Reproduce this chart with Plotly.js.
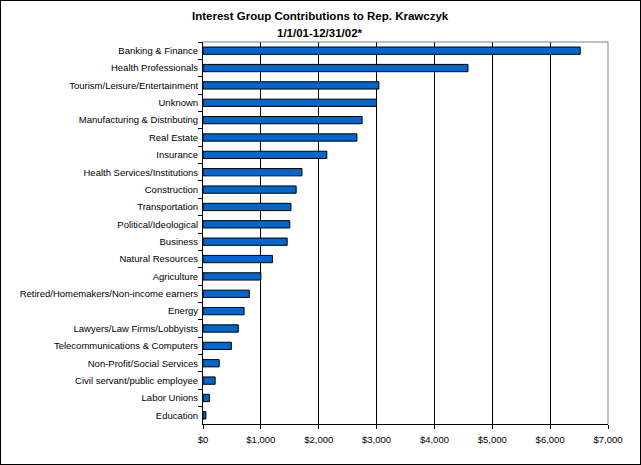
<!DOCTYPE html>
<html>
<head>
<meta charset="utf-8">
<script src="https://cdn.plot.ly/plotly-3.0.1.min.js"></script>
<style>
  body { margin: 0; background: #fff; }
  #chart { width: 641px; height: 465px; border: 1px solid #000; box-sizing: border-box; }
</style>
</head>
<body>
<div id="chart"></div>
<script>
var groups = [
  'Banking & Finance', 'Health Professionals', 'Tourism/Leisure/Entertainment', 'Unknown',
  'Manufacturing & Distributing', 'Real Estate', 'Insurance', 'Health Services/Institutions',
  'Construction', 'Transportation', 'Political/Ideological', 'Business', 'Natural Resources',
  'Agriculture', 'Retired/Homemakers/Non-income earners', 'Energy', 'Lawyers/Law Firms/Lobbyists',
  'Telecommunications & Computers', 'Non-Profit/Social Services', 'Civil servant/public employee',
  'Labor Unions', 'Education'
];
var amounts = [
  6520, 4580, 3040, 3000, 2750, 2660, 2140, 1710,
  1610, 1520, 1500, 1455, 1200, 1000, 800, 710, 610,
  490, 280, 210, 110, 50
];
var tickValues = [0, 1000, 2000, 3000, 4000, 5000, 6000, 7000];
var tickLabels = ['$0', '$1,000', '$2,000', '$3,000', '$4,000', '$5,000', '$6,000', '$7,000'];
var titleLines = ['Interest Group Contributions to Rep. Krawczyk', '1/1/01-12/31/02*'];

var font = 'Arial, "Liberation Sans", sans-serif';

// title lines sit over the page centre, not the plot centre
var titleAnn = titleLines.map(function (t, i) {
  return {
    text: '<b>' + t + '</b>',
    xref: 'paper', yref: 'paper',
    x: 0.29, y: i === 0 ? 1.068 : 1.024,
    xanchor: 'center', yanchor: 'middle',
    showarrow: false,
    font: {family: font, size: 11.5, color: '#000'}
  };
});

Plotly.newPlot('chart', [{
  type: 'bar',
  orientation: 'h',
  x: amounts,
  y: groups,
  marker: {color: '#0066CC', line: {color: '#000', width: 1}},
  hoverinfo: 'none'
}], {
  width: 639,
  height: 463,
  margin: {l: 202, r: 32, t: 41, b: 40},
  paper_bgcolor: '#fff',
  plot_bgcolor: '#fff',
  bargap: 0.58,
  showlegend: false,
  font: {family: font, size: 9.5, color: '#000'},
  annotations: titleAnn,
  xaxis: {
    range: [0, 7000],
    tickvals: tickValues,
    ticktext: tickLabels,
    showgrid: true,
    gridcolor: '#000',
    gridwidth: 1,
    zeroline: false,
    showline: true,
    linecolor: '#000',
    linewidth: 1,
    ticks: 'outside',
    ticklen: 4,
    tickcolor: '#000',
    ticklabelstandoff: 3,
    fixedrange: true
  },
  yaxis: {
    autorange: 'reversed',
    type: 'category',
    showline: true,
    linecolor: '#000',
    linewidth: 1,
    ticks: 'outside',
    tickson: 'boundaries',
    ticklen: 4,
    tickcolor: '#000',
    ticklabelstandoff: 2,
    showgrid: false,
    fixedrange: true
  },
  shapes: [
    {type: 'line', xref: 'paper', yref: 'paper', x0: 0, x1: 1, y0: 1, y1: 1,
     line: {color: '#808080', width: 1}, layer: 'above'},
    {type: 'line', xref: 'paper', yref: 'paper', x0: 1, x1: 1, y0: 0, y1: 1,
     line: {color: '#808080', width: 1}, layer: 'above'}
  ]
}, {staticPlot: true});
</script>
</body>
</html>
